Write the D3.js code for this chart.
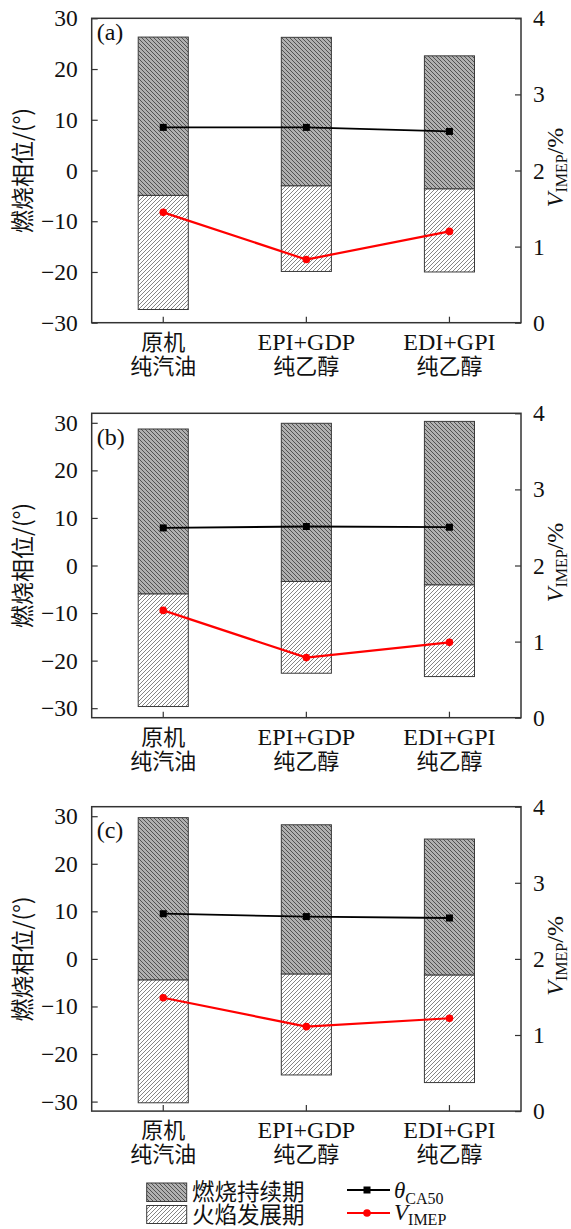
<!DOCTYPE html>
<html>
<head>
<meta charset="utf-8">
<script src="https://cdn.jsdelivr.net/npm/d3@7"></script>
<style>
html,body{margin:0;padding:0;background:#fff;}
svg{display:block;}
text{font-family:"Liberation Serif","Noto Sans CJK SC",serif;fill:#111;}
.cjk{font-family:"Noto Sans CJK SC","Liberation Serif",sans-serif;}
</style>
</head>
<body>
<svg id="chart" width="571" height="1229"></svg>
<script>
// ---------- data ----------
const categoriesTop = ["原机", "EPI+GDP", "EDI+GPI"];
const categoriesBottom = ["纯汽油", "纯乙醇", "纯乙醇"];
const panelLabels = ["(a)", "(b)", "(c)"];
const leftTicks = [-30, -20, -10, 0, 10, 20, 30];
const rightTicks = [0, 1, 2, 3, 4];
const leftDomains = [[-30, 30], [-32, 32], [-32, 32]];
const rightDomain = [0, 4];
// flame development period: from flameStart to flameEnd (crank angle, °)
const flameStartA = [-27.4, -19.9, -20.0];
const flameStartB = [-29.65, -22.65, -23.35];
const flameStartC = [-30.25, -24.4, -26.0];
const flameEndA = [-4.9, -3.0, -3.6];
const flameEndB = [-5.95, -3.36, -4.05];
const flameEndC = [-4.4, -3.16, -3.37];
// combustion duration: from flameEnd to combustionEnd
const combustionEndA = [26.3, 26.25, 22.6];
const combustionEndB = [28.7, 29.9, 30.3];
const combustionEndC = [29.7, 28.2, 25.2];
// theta CA50 (left axis)
const thetaA = [8.5, 8.5, 7.7];
const thetaB = [7.9, 8.2, 8.05];
const thetaC = [9.5, 8.9, 8.6];
// V_IMEP (% , right axis)
const vimepA = [1.45, 0.83, 1.20];
const vimepB = [1.41, 0.79, 0.99];
const vimepC = [1.49, 1.11, 1.22];

const panelsData = [
  {label: panelLabels[0], dom: leftDomains[0], start: flameStartA, mid: flameEndA, end: combustionEndA, theta: thetaA, v: vimepA},
  {label: panelLabels[1], dom: leftDomains[1], start: flameStartB, mid: flameEndB, end: combustionEndB, theta: thetaB, v: vimepB},
  {label: panelLabels[2], dom: leftDomains[2], start: flameStartC, mid: flameEndC, end: combustionEndC, theta: thetaC, v: vimepC}
];

// ---------- layout ----------
const svg = d3.select("#chart");
const left = 91.7, right = 521;
const panelTops = [18.3, 413.3, 806.7];
const panelH = 304.4;
const fmt = d3.format("d");

// patterns
const defs = svg.append("defs");
const pd = defs.append("pattern").attr("id", "darkHatch").attr("patternUnits", "userSpaceOnUse")
  .attr("width", 4).attr("height", 4);
pd.append("rect").attr("width", 4).attr("height", 4).attr("fill", "#b0b0b0");
pd.append("path").attr("d", "M-1,3 l2,2 M0,0 l4,4 M3,-1 l2,2").attr("stroke", "#474747").attr("stroke-width", 0.9);
const pl = defs.append("pattern").attr("id", "lightHatch").attr("patternUnits", "userSpaceOnUse")
  .attr("width", 4).attr("height", 4);
pl.append("rect").attr("width", 4).attr("height", 4).attr("fill", "#ffffff");
pl.append("path").attr("d", "M-1,1 l2,-2 M0,4 l4,-4 M3,5 l2,-2").attr("stroke", "#666").attr("stroke-width", 0.8);

const x = d3.scaleBand().domain(d3.range(categoriesTop.length)).range([left, right]).padding(0);
const barW = x.bandwidth() * 0.35;

panelsData.forEach((p, pi) => {
  const top = panelTops[pi], bottom = top + panelH;
  const y = d3.scaleLinear().domain(p.dom).range([bottom, top]);
  const yr = d3.scaleLinear().domain(rightDomain).range([bottom, top]);
  const g = svg.append("g");

  // bars: flame development (light)
  g.selectAll(".flame").data(p.start).enter().append("rect")
    .attr("x", (d, i) => x(i) + x.bandwidth() / 2 - barW / 2)
    .attr("width", barW)
    .attr("y", (d, i) => y(p.mid[i]))
    .attr("height", (d, i) => y(d) - y(p.mid[i]))
    .attr("fill", "url(#lightHatch)").attr("stroke", "#3a3a3a").attr("stroke-width", 1);
  // bars: combustion duration (dark)
  g.selectAll(".comb").data(p.end).enter().append("rect")
    .attr("x", (d, i) => x(i) + x.bandwidth() / 2 - barW / 2)
    .attr("width", barW)
    .attr("y", d => y(d))
    .attr("height", (d, i) => y(p.mid[i]) - y(d))
    .attr("fill", "url(#darkHatch)").attr("stroke", "#3a3a3a").attr("stroke-width", 1);

  // left axis (inward ticks)
  const ax = d3.axisLeft(y).tickValues(leftTicks).tickSize(-6).tickPadding(14).tickFormat(fmt);
  const ga = g.append("g").attr("transform", `translate(${left},0)`).call(ax);
  ga.select(".domain").remove();
  ga.selectAll(".tick line").attr("stroke", "#333").attr("stroke-width", 1.2);
  ga.selectAll(".tick text").attr("font-size", 23.5).attr("fill", "#111")
    .attr("font-family", "Liberation Serif");

  // right axis (inward)
  const axr = d3.axisRight(yr).tickValues(rightTicks).tickSize(-6).tickPadding(12).tickFormat(fmt);
  const gr = g.append("g").attr("transform", `translate(${right},0)`).call(axr);
  gr.select(".domain").remove();
  gr.selectAll(".tick line").attr("stroke", "#333").attr("stroke-width", 1.2);
  gr.selectAll(".tick text").attr("font-size", 23.5).attr("fill", "#111")
    .attr("font-family", "Liberation Serif");

  // bottom axis (inward)
  const axb = d3.axisBottom(x).tickSize(-6).tickFormat(() => "");
  const gb = g.append("g").attr("transform", `translate(0,${bottom})`).call(axb);
  gb.select(".domain").remove();
  gb.selectAll(".tick line").attr("stroke", "#333").attr("stroke-width", 1.2);

  // frame
  g.append("rect").attr("x", left).attr("y", top).attr("width", right - left).attr("height", panelH)
    .attr("fill", "none").attr("stroke", "#333").attr("stroke-width", 1.5);

  // category labels
  categoriesTop.forEach((c, i) => {
    const cx = x(i) + x.bandwidth() / 2;
    g.append("text").attr("x", cx).attr("y", bottom + 27).attr("text-anchor", "middle")
      .attr("font-size", /[A-Z]/.test(c) ? 24 : 22).attr("class", /[A-Z]/.test(c) ? "" : "cjk").text(c);
    g.append("text").attr("x", cx).attr("y", bottom + 51).attr("text-anchor", "middle")
      .attr("font-size", 22).attr("class", "cjk").text(categoriesBottom[i]);
  });

  // theta line
  const line = d3.line().x((d, i) => x(i) + x.bandwidth() / 2);
  g.append("path").datum(p.theta).attr("d", line.y(d => y(d)))
    .attr("fill", "none").attr("stroke", "#000").attr("stroke-width", 1.8);
  g.selectAll(".sq").data(p.theta).enter().append("rect")
    .attr("x", (d, i) => x(i) + x.bandwidth() / 2 - 3.5).attr("y", d => y(d) - 3.5)
    .attr("width", 7).attr("height", 7).attr("fill", "#000");

  // V_IMEP line
  const line2 = d3.line().x((d, i) => x(i) + x.bandwidth() / 2).y(d => yr(d));
  g.append("path").datum(p.v).attr("d", line2)
    .attr("fill", "none").attr("stroke", "#ff0000").attr("stroke-width", 2.2);
  g.selectAll(".ci").data(p.v).enter().append("circle")
    .attr("cx", (d, i) => x(i) + x.bandwidth() / 2).attr("cy", d => yr(d))
    .attr("r", 3.8).attr("fill", "#ff0000");

  // panel label
  g.append("text").attr("x", left + 5).attr("y", y(30) + 22).attr("font-size", 24).text(p.label);

  // left title
  const mid = (top + bottom) / 2;
  g.append("text").attr("transform", `translate(31,${mid}) rotate(-90)`).attr("text-anchor", "middle")
    .attr("class", "cjk").attr("font-size", 23).text("燃烧相位/(°)");

  // right title
  const rt = g.append("text").attr("transform", `translate(563,${mid - 3}) rotate(-90)`).attr("text-anchor", "middle")
    .attr("font-size", 24);
  rt.append("tspan").attr("font-style", "italic").text("V");
  rt.append("tspan").attr("font-size", 16).attr("dy", 4).text("IMEP");
  rt.append("tspan").attr("dy", -4).text("/%");
});

// ---------- legend ----------
const lg = svg.append("g");
lg.append("rect").attr("x", 146.7).attr("y", 1183).attr("width", 40).attr("height", 18.5)
  .attr("fill", "url(#darkHatch)").attr("stroke", "#3a3a3a").attr("stroke-width", 1);
lg.append("rect").attr("x", 146.7).attr("y", 1205.5).attr("width", 40).attr("height", 18)
  .attr("fill", "url(#lightHatch)").attr("stroke", "#3a3a3a").attr("stroke-width", 1);
lg.append("text").attr("x", 192).attr("y", 1200).attr("class", "cjk").attr("font-size", 22.5).text("燃烧持续期");
lg.append("text").attr("x", 192).attr("y", 1223).attr("class", "cjk").attr("font-size", 22.5).text("火焰发展期");

lg.append("line").attr("x1", 347).attr("x2", 390).attr("y1", 1190).attr("y2", 1190)
  .attr("stroke", "#000").attr("stroke-width", 1.8);
lg.append("rect").attr("x", 367 - 3.5).attr("y", 1190 - 3.5).attr("width", 7).attr("height", 7).attr("fill", "#000");
lg.append("line").attr("x1", 347).attr("x2", 390).attr("y1", 1213).attr("y2", 1213)
  .attr("stroke", "#ff0000").attr("stroke-width", 2.2);
lg.append("circle").attr("cx", 367).attr("cy", 1213).attr("r", 3.8).attr("fill", "#ff0000");

const t1 = lg.append("text").attr("x", 394).attr("y", 1198).attr("font-size", 23);
t1.append("tspan").attr("font-style", "italic").text("θ");
t1.append("tspan").attr("font-size", 16).attr("dy", 6).text("CA50");
const t2 = lg.append("text").attr("x", 394).attr("y", 1220).attr("font-size", 23);
t2.append("tspan").attr("font-style", "italic").text("V");
t2.append("tspan").attr("font-size", 16).attr("dy", 5).text("IMEP");
</script>
</body>
</html>
